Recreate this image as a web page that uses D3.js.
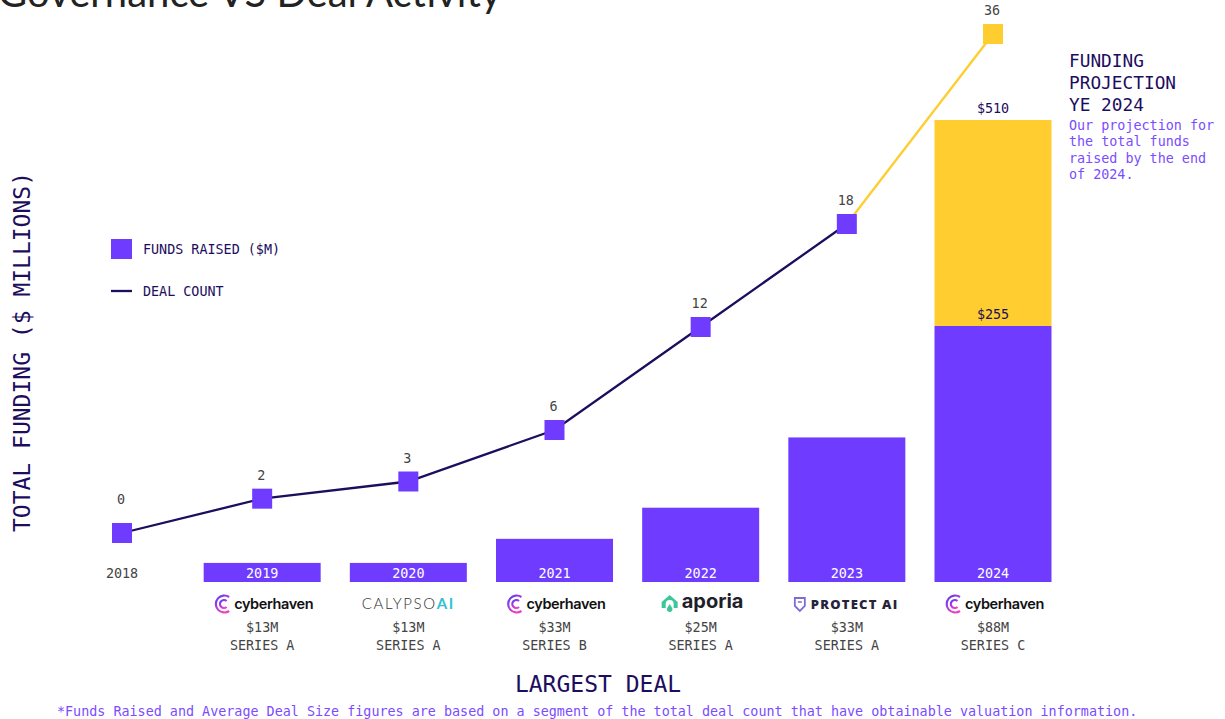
<!DOCTYPE html>
<html>
<head>
<meta charset="utf-8">
<script src="https://cdn.jsdelivr.net/npm/d3@7/dist/d3.min.js"></script>
<style>
  body { margin: 0; background: #fff; }
  svg { display: block; }
  .mono { font-family: "DejaVu Sans Mono", "Liberation Mono", monospace; }
</style>
</head>
<body>
<svg id="chart" width="1225" height="719"></svg>
<script>
/**
 * Data.
 */
const years = ['2018', '2019', '2020', '2021', '2022', '2023', '2024'];
const fundsRaised = [0, 19, 19, 43, 74, 144, 255]; // $M
const projectedFunds = 510; // YE 2024 projection
const dealCount = [0, 2, 3, 6, 12, 18];
const projectedDeals = 36;
const dealCompany = [null, 'cyberhaven', 'calypso', 'cyberhaven', 'aporia', 'protect', 'cyberhaven'];
const dealAmount = [null, '$13M', '$13M', '$33M', '$25M', '$33M', '$88M'];
const dealRound = [null, 'SERIES A', 'SERIES A', 'SERIES B', 'SERIES A', 'SERIES A', 'SERIES C'];

/**
 * Visual configs.
 */
const purple = '#6f3cff',
    navy = '#1d0d5e',
    yellow = '#ffcd2f',
    grey = '#444',
    footPurple = '#7a4cff';
const barWidth = 117, markerSize = 20;

const svg = d3.select('#chart');

const x = d3.scalePoint().domain(years).range([116, 993]);
const yFunds = d3.scaleLinear().domain([0, 255, 510]).range([582, 326, 120]);
const yDeals = d3.scaleLinear().domain([0, 18, 36]).range([533, 224, 34]);

// Title (cut off at top)
svg.append('text')
    .attr('x', -2).attr('y', 7)
    .style('font-family', 'Lato, "Open Sans", sans-serif')
    .style('font-size', '40px')
    .attr('fill', '#222')
    .text('Governance VS Deal Activity');

/**
 * Bars.
 */
const barData = years.map((y, i) => ({ year: y, value: fundsRaised[i] })).filter(d => d.value > 0);
const last = years[years.length - 1];

// projection on top of 2024
svg.append('rect')
    .attr('x', x(last) - barWidth / 2)
    .attr('y', yFunds(projectedFunds))
    .attr('width', barWidth)
    .attr('height', yFunds(255) - yFunds(projectedFunds))
    .attr('fill', yellow);

svg.selectAll('.bar').data(barData).enter().append('rect')
    .attr('class', 'bar')
    .attr('x', d => x(d.year) - barWidth / 2)
    .attr('y', d => yFunds(d.value))
    .attr('width', barWidth)
    .attr('height', d => yFunds(0) - yFunds(d.value))
    .attr('fill', purple);

// year labels
svg.selectAll('.year').data(years).enter().append('text')
    .attr('class', 'year mono')
    .attr('x', d => x(d) + (d === '2018' ? 6 : 0)).attr('y', 578)
    .attr('text-anchor', 'middle')
    .style('font-size', '13.4px')
    .attr('fill', (d, i) => fundsRaised[i] > 0 ? '#fff' : grey)
    .text(d => d);

// funds labels for 2024
[[255, '$255'], [projectedFunds, '$510']].forEach(([v, t]) => {
    svg.append('text').attr('class', 'mono')
        .attr('x', x(last)).attr('y', yFunds(v) - 7)
        .attr('text-anchor', 'middle')
        .style('font-size', '13.4px')
        .attr('fill', navy)
        .text(t);
});

/**
 * Deal count line.
 */
const pts = dealCount.map((c, i) => [x(years[i]) + (i === 0 ? 6 : 0), yDeals(c)]);
svg.append('path')
    .attr('d', d3.line()(pts))
    .attr('fill', 'none').attr('stroke', navy).attr('stroke-width', 2.3);
svg.append('path')
    .attr('d', d3.line()([pts[pts.length - 1], [x(last), yDeals(projectedDeals)]]))
    .attr('fill', 'none').attr('stroke', yellow).attr('stroke-width', 2.3);

const markerData = dealCount.map((c, i) => ({ year: years[i], c: c, proj: false, dx: i === 0 ? 6 : 0 }))
    .concat([{ year: last, c: projectedDeals, proj: true, dx: 0 }]);

svg.selectAll('.marker').data(markerData).enter().append('rect')
    .attr('class', 'marker')
    .attr('x', d => x(d.year) + d.dx - markerSize / 2)
    .attr('y', d => yDeals(d.c) - markerSize / 2)
    .attr('width', markerSize).attr('height', markerSize)
    .attr('fill', d => d.proj ? yellow : purple);

svg.selectAll('.count').data(markerData).enter().append('text')
    .attr('class', 'count mono')
    .attr('x', d => x(d.year) + d.dx - 1)
    .attr('y', d => yDeals(d.c) - (d.c === 0 ? 29 : 19))
    .attr('text-anchor', 'middle')
    .style('font-size', '13.4px')
    .attr('fill', grey)
    .text(d => d.c);

/**
 * Legend.
 */
svg.append('rect').attr('x', 111).attr('y', 239).attr('width', 21).attr('height', 20).attr('fill', purple);
svg.append('line').attr('x1', 111).attr('x2', 132).attr('y1', 291).attr('y2', 291)
    .attr('stroke', navy).attr('stroke-width', 2.3);
[['FUNDS RAISED ($M)', 254], ['DEAL COUNT', 296]].forEach(([t, y]) => {
    svg.append('text').attr('class', 'mono')
        .attr('x', 143).attr('y', y)
        .style('font-size', '13.4px').attr('fill', navy).text(t);
});

/**
 * Axis titles.
 */
svg.append('text').attr('class', 'mono')
    .attr('transform', 'translate(30,352) rotate(-90)')
    .attr('text-anchor', 'middle')
    .style('font-size', '23px').attr('fill', navy)
    .text('TOTAL FUNDING ($ MILLIONS)');

svg.append('text').attr('class', 'mono')
    .attr('x', 598).attr('y', 692)
    .attr('text-anchor', 'middle')
    .style('font-size', '23px').attr('fill', navy)
    .text('LARGEST DEAL');

/**
 * Projection annotation.
 */
['FUNDING', 'PROJECTION', 'YE 2024'].forEach((t, i) => {
    svg.append('text').attr('class', 'mono')
        .attr('x', 1069).attr('y', 67 + i * 22)
        .style('font-size', '17.8px').attr('fill', navy).text(t);
});
['Our projection for', 'the total funds', 'raised by the end', 'of 2024.'].forEach((t, i) => {
    svg.append('text').attr('class', 'mono')
        .attr('x', 1069).attr('y', 130 + i * 16.3)
        .style('font-size', '13.4px').attr('fill', footPurple).text(t);
});

/**
 * Largest deal row: logos + amount + round.
 */
const defs = svg.append('defs');
const grad = defs.append('linearGradient').attr('id', 'cyberGrad')
    .attr('x1', 0).attr('y1', 0).attr('x2', 0.6).attr('y2', 1);
grad.append('stop').attr('offset', '0%').attr('stop-color', '#5a3cf5');
grad.append('stop').attr('offset', '100%').attr('stop-color', '#f03cc8');

function drawLogo(g, kind) {
    if (kind === 'cyberhaven') {
        const ic = g.append('g').attr('transform', 'translate(-40,0)');
        ic.append('path')
            .attr('d', 'M7,-7 A8.5,8.5 0 1 0 7,7')
            .attr('fill', 'none').attr('stroke', 'url(#cyberGrad)').attr('stroke-width', 2.2);
        ic.append('path')
            .attr('d', 'M4.5,-3 A4,4 0 1 0 4.5,3')
            .attr('fill', 'none').attr('stroke', 'url(#cyberGrad)').attr('stroke-width', 2.2);
        g.append('text').attr('x', -28).attr('y', 5)
            .style('font-family', 'Inter, Roboto, sans-serif').style('font-weight', 600)
            .style('font-size', '14.5px').attr('fill', '#111').attr('letter-spacing', '-0.4')
            .text('cyberhaven');
    } else if (kind === 'calypso') {
        const t = g.append('text').attr('x', 0).attr('y', 5).attr('text-anchor', 'middle')
            .style('font-family', 'Lato, "Open Sans", sans-serif').style('font-weight', 300)
            .style('font-size', '15px').attr('letter-spacing', '1.6');
        t.append('tspan').attr('fill', '#333').text('CALYPSO');
        t.append('tspan').attr('fill', '#2fc2d0').style('font-weight', 700).text('AI');
    } else if (kind === 'aporia') {
        const ic = g.append('g').attr('transform', 'translate(-31,0)');
        ic.append('path')
            .attr('d', 'M0,-9 L8,-2 L8,4 L4,4 L4,0 A4,4 0 1 0 -4,0 L-4,4 L-8,4 L-8,-2 Z')
            .attr('fill', '#3cc79b');
        ic.append('path').attr('d', 'M0,0 L2.5,4 A2.8,2.8 0 1 1 -2.5,4 Z').attr('fill', '#3cc79b');
        g.append('text').attr('x', -19).attr('y', 4)
            .style('font-family', 'Inter, Roboto, sans-serif').style('font-weight', 700)
            .style('font-size', '20px').attr('fill', '#1f1f2a')
            .text('aporia');
    } else if (kind === 'protect') {
        const ic = g.append('g').attr('transform', 'translate(-47,0)');
        ic.append('path')
            .attr('d', 'M-5,-6 L5,-6 L5,2 L0,7 L-5,2 Z')
            .attr('fill', 'none').attr('stroke', '#7b6bd3').attr('stroke-width', 1.8);
        ic.append('line').attr('x1', -2).attr('x2', 2).attr('y1', -2).attr('y2', -2)
            .attr('stroke', '#7b6bd3').attr('stroke-width', 1.5);
        g.append('text').attr('x', -36).attr('y', 4.5)
            .style('font-family', '"Open Sans", Inter, sans-serif').style('font-weight', 800)
            .style('font-size', '13px').attr('fill', '#26243a').attr('letter-spacing', '1.2')
            .text('PROTECT AI');
    }
}

years.forEach((yr, i) => {
    if (!dealCompany[i]) return;
    const g = svg.append('g').attr('transform', 'translate(' + x(yr) + ',604)');
    drawLogo(g, dealCompany[i]);
    g.append('text').attr('class', 'mono')
        .attr('y', 28).attr('text-anchor', 'middle')
        .style('font-size', '13.4px').attr('fill', grey).text(dealAmount[i]);
    g.append('text').attr('class', 'mono')
        .attr('y', 46).attr('text-anchor', 'middle')
        .style('font-size', '13.4px').attr('fill', grey).text(dealRound[i]);
});

/**
 * Footnote.
 */
svg.append('text').attr('class', 'mono')
    .attr('x', 57).attr('y', 716)
    .style('font-size', '13.4px').attr('fill', footPurple)
    .text('*Funds Raised and Average Deal Size figures are based on a segment of the total deal count that have obtainable valuation information.');
</script>
</body>
</html>
